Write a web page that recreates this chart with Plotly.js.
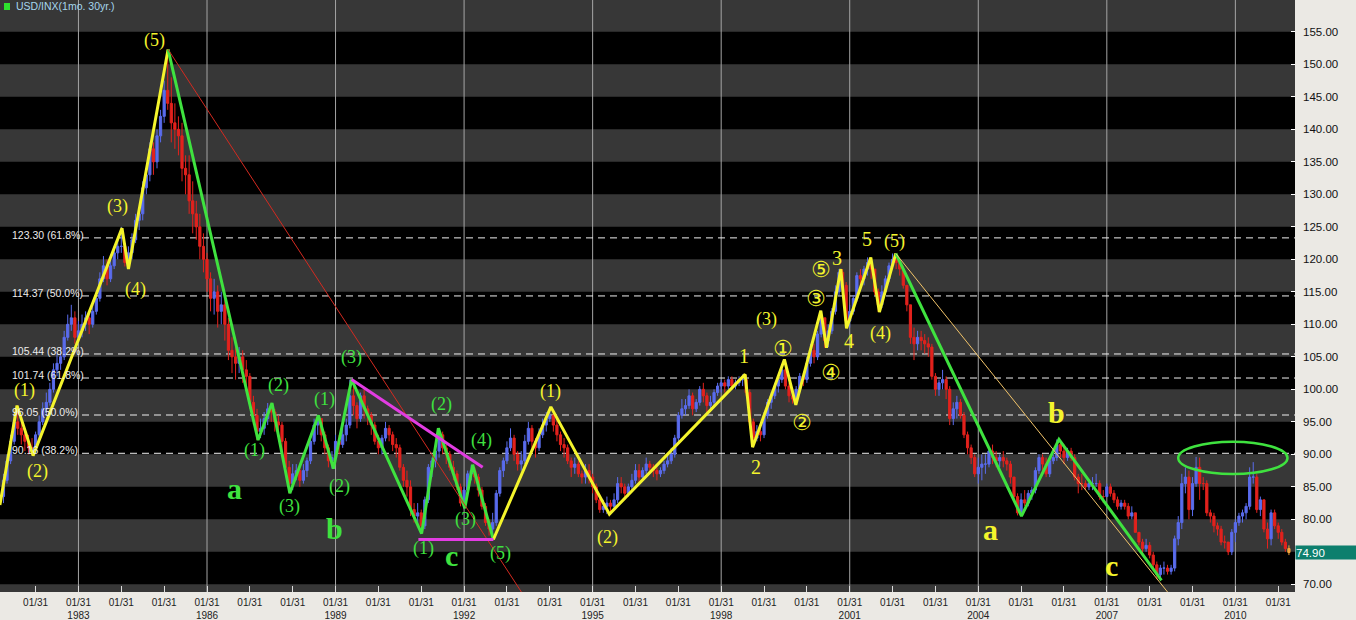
<!DOCTYPE html>
<html><head><meta charset="utf-8">
<script src="https://cdn.plot.ly/plotly-3.0.1.min.js"></script>
<style>html,body{margin:0;padding:0;background:#ebe9e4;overflow:hidden}#chart{width:1356px;height:620px}</style>
</head><body><div id="chart"></div>
<script>
// x = months since Jan 1982 (01/31/1982 = 0); first candle = Apr 1981
const startMonth = -9;
const firstOpen = 83.5;
const closes = [
 86,89,92,95,94,93,92,91,91,
 93,95,97,98,100,103,104,105,108,110,111,108,
 109,110,111,110,112,114,117,119,117,119,121,122,
 122,119.5,121,123,126,127,131,133,137,135,139,142,
 146,144,141,140,139,134,133,129,127,125,122,120,
 117,114,115,112,113,110,106,105,104,105,103,102,
 98,96,93.5,94,95.5,97,96.5,95,94.5,92,88,85.5,
 87,87.5,86,87.5,89,92,94.5,95.5,93,91,89,89.5,
 92,91.5,93,94.5,99,97.5,95.5,99,97,96,94.5,92,
 91,92.5,94,93,91.5,91,88,86,85,81.5,80.5,81,
 79,83,88,89,90.5,93,91,90,88,87,85,82.5,
 84.5,87,87.5,86.5,84.5,82,79.5,78.5,79.5,84,87.5,89,
 91,92.5,90,88.5,89,92,94,92,91,93,94.5,95.5,
 96,94.5,93,91.5,91,89,88,88.5,87,86.5,87.5,86.5,
 85,83,81.5,82,82.5,82,83,85.5,85,84,85,86,
 87.5,86.5,87.5,88.5,88,87.5,87,87.5,88.5,89,90,92.5,
 96,97,97.5,99,97,98,100,99,97.5,98,99.5,100.5,
 101,100.5,101.5,100.5,101,101.5,101.5,99.5,95,92.5,93.5,93,
 96,98,99,100.5,101.5,103,100.5,99,98.5,100,102,101.5,
 104,106,105,108.5,111,107.5,109,112,115,118,116,110.5,
 112,114,117.5,117,118.5,119.5,118.5,115,113,115,117,119,
 120,119.5,118.5,116,113,108,107,108,107.5,107,106.5,102,
 100,101,101.5,100,95.5,97,98,96,93,91,89.5,87,
 88,88.5,88.5,90.5,89.5,89,89.5,89,88.5,86.5,83.5,81,
 83,82.5,84,84.5,87.5,89.5,88.5,87,89,89.5,91.5,90.5,
 89.5,90.5,89.5,86.5,85.5,85.5,85,85.5,85.5,85.5,83.5,83.5,
 85,84,83,82,82.5,82,80.5,81,78,76.5,75.5,76,
 74.5,73,71.5,72.5,72.5,72,72.5,77,79.5,85.5,86.5,81.5,
 85.5,88,85.5,85.5,81,80.5,79,78.5,76.5,76.5,75,78,
 79.5,80.5,81,82,86.5,86.5,81.5,83,78.5,77,81,79,
 78,76.5,75.5,74.9
];
const highs = [
 87,90,93,96.5,97.5,95,94,93,92.5,
 93.5,96,98,99.5,101,104,105.5,106.5,109,111.5,113,112,
 110.5,111.5,112,112,113,115,118,120.5,120,120.5,122,123.5,
 125,122.5,122,124,127,128,132,134,138,138,140,143,
 147.5,152.3,148,144,142,141,136,136,132,129,127,124,
 121,118,117,116,115,114,111,108,106.5,106.5,106,104.5,
 102.5,99,97,95.5,96.5,97.9,97.9,97,96,95,92.5,89,
 88.5,88.5,88,88.5,89.5,92.5,95.5,96,95.5,93.5,91.5,90.5,
 93,93,94,95.5,101.5,100.5,98,99.5,100,97.5,96.5,95,
 93,93,95,94.5,93.5,92.5,91.5,88.5,87.5,86,82.5,82.5,
 81.5,83.5,88.5,89.5,91,94,93.5,91.5,90.5,89,87.5,85.5,
 85,87.5,88.4,88,87,85,82.5,80,81,84.5,88,89.5,
 92,94,93,90.5,90.5,93,95,94.5,92.5,94,95.5,96.5,
 97.3,96.5,95.5,93.5,92.5,91.5,89.5,89.5,89,87.5,88.5,88.5,
 87,85.5,83.5,83,83.5,83,84,86.5,86.5,85.5,85.5,87,
 88.5,88.5,88,89.5,89,88.5,88,88,89,90,91,93,
 96.5,98.5,98.5,100,99.5,98.5,100.5,101,99.5,99,100,101,
 101.5,101.5,102,102,101.5,102,102.3,102.2,100,95.5,94.5,94,
 96.5,98.5,99.5,101,102,103.5,104.6,101,99.5,100.5,102.5,102.5,
 105,107,107,109,112.1,111,110,112.5,116,118.5,118.5,116.5,
 113,114.5,118,118.5,119,120.3,120,118.5,115.5,116,117.5,119.5,
 120.9,120.5,120,119,116,113,109.5,109,109,108.5,108,107,
 102.5,101.5,103,102,100.5,98,99,98.5,96.5,93.5,91.5,90,
 89.5,90,90,91,91.5,90.5,90,90.5,89.5,89,86.5,84,
 84,84.5,84.5,85,88,90,90,89.5,89.5,90,92.3,92,
 91.5,91,91,90,87,87,86,86,86.5,87,86,84.5,
 85.5,85.5,84.5,83.5,83,83,82.5,82,81,78,77,77,
 76.5,75,73.5,73,73.5,73,73,77.5,80.5,87,88,87.5,
 86.5,89.6,89.5,86.5,86,81.5,81,79.5,79,77.5,76.5,78.5,
 80,81,81.5,82.5,88,88.8,87,83.5,83,79.5,81.5,81.5,
 79.5,78.5,77,76
];
const lows = [
 82.5,85.5,88.5,91.5,93,91.5,90.5,90,89.9,
 90.2,92.5,94.5,96,97.5,99.5,102,103,104.5,107.5,109,107,
 107,108,109,108.5,109.5,111.5,113.5,116.5,116,116.5,118.5,120,
 121,118.9,118.7,120,122.5,124.5,126,130,132,133,134,138,
 141,143,138,137,136,132,130,127,124,123,120,118,
 115,112,111.5,109.5,110,107.5,104.5,102.5,101.5,102.5,101,100,
 97,94.5,92.2,92.5,93,94.5,95,93.5,93,90.5,87,84,
 84.5,86,85,85.5,86.5,88.5,91.5,93,92,90,88,87.8,
 89,90,91,92,94,96,94,95,95.5,94.5,93,91.5,
 90,90,92,92,90.5,89.5,87.5,85,83.5,80.5,79.5,79,
 77.8,78.5,82.5,86.5,88,89.5,90,88.5,87.5,86,84.5,82,
 81.7,84,86,85.5,83.5,81.5,79,77.5,76.9,79,83.5,86.5,
 88.5,90.5,89,87.5,87.5,88.5,91.5,91,89.5,90.5,92.5,93.5,
 95,93.5,92,90.5,89.5,88.5,86.5,87,86.5,85.5,85.5,85.5,
 84,82.5,81,81,80.8,81,81.5,82.5,84,83,83.5,84.5,
 85.5,85.5,86,87,87,86.5,86,86.5,87,88,88.5,89.5,
 92,95.5,96,97,96,96.5,97.5,98,96.5,97,97.5,99,
 99.5,99.5,100,100,100,100.5,100.5,99,94,91.1,92,92,
 92.5,95.5,97,98.5,99.5,101,100,98,97.8,97.6,99.5,100.5,
 101,103.5,104,104.5,108,106.4,106.5,108.5,111.5,114.5,115,109.4,
 109.5,111.5,113.5,115.5,116,117.5,117,114.5,111.9,112.5,114.5,116.5,
 118.5,118.5,117.5,115.5,112,107,104.5,106,106,105.5,105,101.5,
 99,99,100,98.5,94.5,94.5,95.5,95.5,92.5,90,88.5,86.5,
 85.5,86,87,88,88.5,88,88,88,87.5,85.5,83,80.6,
 80.8,82,82,83,84,87,87.5,86.5,86.5,88.5,89,89.5,
 88.5,89,89,86,84,84.5,84.5,84.5,84.5,85,83,82.5,
 83.5,83.5,82.5,81.5,81.5,81.5,80,80,78,76,74.5,75,
 74,72.5,70.8,70.6,71.5,71.5,71.5,72,76,78.5,84,80,
 80.5,85,83,84.5,80.5,79.5,78,77.5,76,75.5,74.5,74.5,
 76.5,79,79.5,80,81.5,85.5,81,80.5,78,75.5,76,78.5,
 77,76,75,74.5
];
const tickYears = [1982,1983,1984,1985,1986,1987,1988,1989,1990,1991,1992,1993,1994,1995,1996,1997,1998,1999,2000,2001,2002,2003,2004,2005,2006,2007,2008,2009,2010,2011];
const gridYears = [1983,1986,1989,1992,1995,1998,2001,2004,2007,2010];
const priceTicks = [70,80,85,90,95,100,105,110,115,120,125,130,135,140,145,150,155];
const lastPrice = 74.90;

// Fibonacci levels
const fibValues = [123.30,114.37,105.44,101.74,96.05,90.16];
const fibLabels = ['123.30 (61.8%)','114.37 (50.0%)','105.44 (38.2%)','101.74 (61.8%)','96.05 (50.0%)','90.16 (38.2%)'];

// Wave pivots (month index, value)
const yellow1X = [-10,-5.2,-0.7,24.2,26.0,37.1];
const yellow1Y = [82.2,97.5,89.8,124.8,118.5,152.3];
const green1X = [37.1,62.3,66.2,71.2,79.2,83.4,88.5,108.1,112.8,120.2,122.4,128.2];
const green1Y = [152.3,92.2,97.9,84.0,96.0,87.8,101.5,77.8,94.0,81.7,88.4,76.9];
const yellow2X = [128.2,144.3,160.7,198.7,200.8,209.7,212.9,219.9,221.5,225.5,227.1,233.9,236.3,240.9];
const yellow2Y = [76.9,97.3,80.8,102.3,91.1,104.6,97.6,112.1,106.4,118.5,109.4,120.3,111.9,120.9];
const green2X = [240.9,276.1,286.6,315.3];
const green2Y = [120.9,80.5,92.3,70.6];
const magentaA = {x:[88.5,125.2], y:[101.5,88.0]};
const magentaB = {x:[107.2,128.2], y:[76.9,76.9]};
const redTrend = {x:[37.1,137.5], y:[152.3,67.6]};
const orangeTrend = {x:[240.9,318.5], y:[120.9,67.8]};
const ellipse = {x:[320.0,350.6], y:[86.97,91.94]};

// Wave labels [text, x, y]
const yellowParen = [['(1)',-3.2,99.8],['(2)',0.4,87.3],['(3)',22.8,128.2],['(4)',28.1,115.3],['(5)',33.4,153.6],
  ['(1)',144.3,99.7],['(2)',160.3,77.2],['(3)',204.8,110.7],['(4)',236.5,108.6],['(5)',240.4,122.8]];
const greenParen = [['(1)',61.4,90.6],['(2)',67.9,100.6],['(3)',71.2,82.0],['(1)',80.8,98.4],['(2)',85.2,85.0],['(3)',88.6,104.9],
  ['(1)',108.5,75.5],['(2)',113.8,97.7],['(3)',120.3,79.9],['(4)',125.0,92.2],['(5)',130.3,74.8]];
const yellowDigits = [['1',198.4,105.1],['2',201.7,88.0],['3',224.4,120.2],['4',227.8,107.4],['5',232.8,123.1]];
const yellowCircled = [['①',209.3,106.3],['②',214.6,94.9],['③',218.5,114.0],['④',222.7,102.6],['⑤',219.9,118.5]];
const greenLetters = [['a',55.8,84.8],['b',83.8,78.6],['c',116.6,74.5]];
const yellowLetters = [['a',267.3,78.4],['b',286.0,96.4],['c',301.4,72.9]];

const YEL = '#f4f42c', GRN = '#3fe23f', MAG = '#e23ce2';
const xs = closes.map((_, i) => startMonth + i);
const opens = [firstOpen].concat(closes.slice(0, -1));
const n = closes.length;

const candleMain = {
  type:'candlestick', x:xs.slice(0,n-1), open:opens.slice(0,n-1), high:highs.slice(0,n-1), low:lows.slice(0,n-1), close:closes.slice(0,n-1),
  increasing:{line:{color:'#5a6ced',width:1}, fillcolor:'#5a6ced'},
  decreasing:{line:{color:'#e3221d',width:1}, fillcolor:'#e3221d'},
  whiskerwidth:0, hoverinfo:'skip', showlegend:false
};
const candleLast = {
  type:'candlestick', x:xs.slice(n-1), open:opens.slice(n-1), high:highs.slice(n-1), low:lows.slice(n-1), close:closes.slice(n-1),
  increasing:{line:{color:'#f5a43a',width:1}, fillcolor:'#f5a43a'},
  decreasing:{line:{color:'#f5a43a',width:1}, fillcolor:'#f5a43a'},
  whiskerwidth:0, hoverinfo:'skip', showlegend:false
};
function zig(x, y, c){ return {type:'scatter', mode:'lines', x:x, y:y, line:{color:c, width:3}, hoverinfo:'skip', showlegend:false}; }

const XMIN = -9.97, XMAX = 352.7, YMIN = 68.82, YMAX = 159.9;
const shapes = [];
for (let lo = 65; lo < 160; lo += 5) {
  if (((lo - 65) / 5) % 2 === 0) shapes.push({type:'rect', xref:'paper', yref:'y', x0:0, x1:1, y0:lo, y1:lo+5, fillcolor:'#373737', line:{width:0}, layer:'below'});
}
gridYears.forEach(y => shapes.push({type:'line', xref:'x', yref:'paper', x0:(y-1982)*12, x1:(y-1982)*12, y0:0, y1:1, line:{color:'#a5a5a5', width:1}, layer:'below'}));
fibValues.forEach(v => shapes.push({type:'line', xref:'paper', yref:'y', x0:82/1295, x1:1, y0:v, y1:v, line:{color:'#f0f0f0', width:1, dash:'7px,5px'}, layer:'below'}));
shapes.push({type:'line', xref:'x', yref:'y', x0:redTrend.x[0], x1:redTrend.x[1], y0:redTrend.y[0], y1:redTrend.y[1], line:{color:'#d42a20', width:1}, layer:'above'});
shapes.push({type:'line', xref:'x', yref:'y', x0:orangeTrend.x[0], x1:orangeTrend.x[1], y0:orangeTrend.y[0], y1:orangeTrend.y[1], line:{color:'#f2c46a', width:1}, layer:'above'});
shapes.push({type:'line', xref:'x', yref:'y', x0:magentaA.x[0], x1:magentaA.x[1], y0:magentaA.y[0], y1:magentaA.y[1], line:{color:MAG, width:3}, layer:'above'});
shapes.push({type:'line', xref:'x', yref:'y', x0:magentaB.x[0], x1:magentaB.x[1], y0:magentaB.y[0], y1:magentaB.y[1], line:{color:MAG, width:3}, layer:'above'});
shapes.push({type:'circle', xref:'x', yref:'y', x0:ellipse.x[0], x1:ellipse.x[1], y0:ellipse.y[0], y1:ellipse.y[1], line:{color:GRN, width:2.5}, layer:'above'});
shapes.push({type:'rect', xref:'paper', yref:'paper', x0:4/1295, x1:10/1295, y0:1-10/592, y1:1-3/592, fillcolor:'#2ee02e', line:{width:0}, layer:'above'});

const annotations = [];
function lab(arr, color, size, fam, bold){
  arr.forEach(a => annotations.push({x:a[1], y:a[2], xref:'x', yref:'y', text: bold ? '<b>'+a[0]+'</b>' : a[0], showarrow:false,
    font:{family:fam, size:size, color:color}}));
}
const SERIF = 'Liberation Serif, DejaVu Serif, serif';
lab(yellowParen, YEL, 18, SERIF, false);
lab(greenParen, GRN, 18, SERIF, false);
lab(yellowDigits, YEL, 20, SERIF, false);
lab(yellowCircled, YEL, 22, 'DejaVu Sans, sans-serif', false);
lab(greenLetters, GRN, 30, SERIF, true);
lab(yellowLetters, YEL, 30, SERIF, true);
fibValues.forEach((v, i) => annotations.push({xref:'paper', yref:'y', x:10/1295, y:v, xanchor:'left', yanchor:'middle', yshift:3, text:fibLabels[i], showarrow:false,
  font:{family:'Liberation Sans, Arial, sans-serif', size:10.5, color:'#ececec'}}));
annotations.push({xref:'paper', yref:'paper', x:14/1295, y:1-6.5/592, xanchor:'left', yanchor:'middle', text:'USD/INX(1mo. 30yr.)', showarrow:false,
  font:{family:'Liberation Sans, Arial, sans-serif', size:10.5, color:'#a6d6ec'}});
annotations.push({xref:'paper', yref:'y', x:1, y:lastPrice, xanchor:'left', yanchor:'middle', text:lastPrice.toFixed(2), showarrow:false,
  bgcolor:'#0d7f6d', width:60, height:13, align:'left', borderpad:0, xshift:0,
  font:{family:'Liberation Sans, Arial, sans-serif', size:11.5, color:'#ffffff'}});

const layout = {
  width:1356, height:620,
  margin:{l:0, r:61, t:0, b:28, pad:0},
  paper_bgcolor:'#ebe9e4', plot_bgcolor:'#000000',
  showlegend:false, hovermode:false, boxgap:0.12,
  xaxis:{type:'linear', range:[XMIN, XMAX], rangeslider:{visible:false}, showgrid:false, zeroline:false, showline:false,
    tickvals: tickYears.map(y => (y-1982)*12),
    ticktext: tickYears.map(y => ((y-1983) % 3 === 0) ? '01/31<br>'+y : '01/31'),
    ticks:'inside', ticklen:6, tickcolor:'#dddddd', tickwidth:1, ticklabelstandoff:3,
    tickfont:{family:'Liberation Sans, Arial, sans-serif', size:10, color:'#222'}},
  yaxis:{side:'right', range:[YMIN, YMAX], showgrid:false, zeroline:false, showline:false,
    tickvals:priceTicks, ticktext:priceTicks.map(v => v.toFixed(2)), ticks:'inside', ticklen:4, tickcolor:'#ffffff',
    ticklabelstandoff:7,
    tickfont:{family:'Liberation Sans, Arial, sans-serif', size:11.5, color:'#111'}},
  shapes:shapes, annotations:annotations
};
Plotly.newPlot('chart', [candleMain, candleLast, zig(yellow1X,yellow1Y,YEL), zig(green1X,green1Y,GRN), zig(yellow2X,yellow2Y,YEL), zig(green2X,green2Y,GRN)], layout, {staticPlot:true, displayModeBar:false});
</script></body></html>
